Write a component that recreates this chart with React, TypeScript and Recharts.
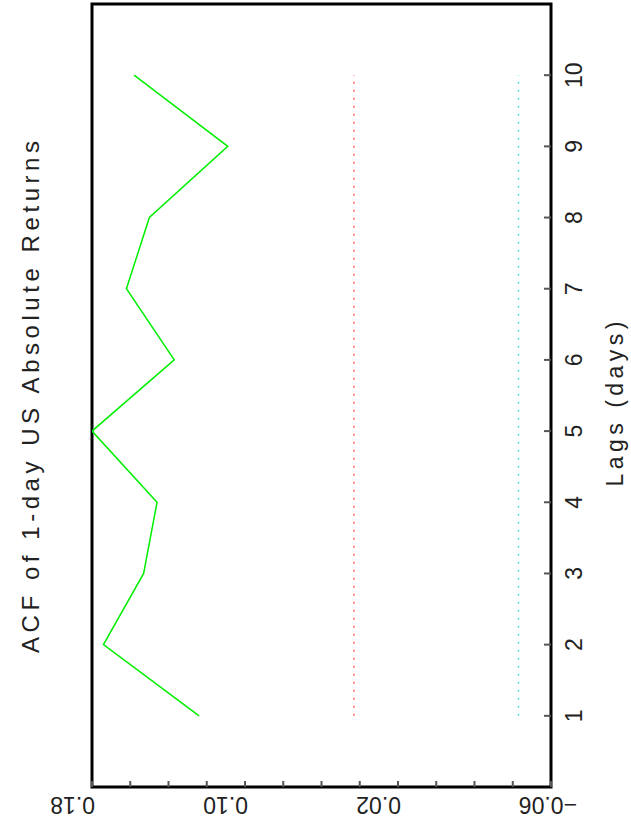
import { ComposedChart, Line, XAxis, YAxis, ReferenceArea } from "recharts";

const lags = [1, 2, 3, 4, 5, 6, 7, 8, 9, 10];
const acf = [0.124, 0.174, 0.153, 0.146, 0.18, 0.137, 0.162, 0.15, 0.109, 0.158];
const confUpper = 0.043;
const confLower = -0.043;
const valueTicks = [0.18, 0.16, 0.14, 0.12, 0.1, 0.08, 0.06, 0.04, 0.02, 0, -0.02, -0.04, -0.06];
const valueLabels = [0.18, 0.1, 0.02, -0.06];

const data = lags.map((lag, i) => ({ lag, acf: acf[i], upper: confUpper, lower: confLower }));

const W = 631;
const H = 834;
const FONT = "'Liberation Sans', Arial, sans-serif";
const tickColor = "#555";
const textColor = "#222";

function BottomTick({ x, y, payload }: any) {
  const v = payload.value;
  const show = valueLabels.some((l) => Math.abs(l - v) < 1e-9);
  const tx = v < 0 ? x + 26 : x + 3;
  return (
    <g>
      <line x1={x} y1={y} x2={x} y2={y - 6} stroke={tickColor} strokeWidth={2} />
      {show && (
        <text
          x={tx}
          y={y + 18}
          transform={`rotate(180 ${tx} ${y + 18})`}
          textAnchor="start"
          dominantBaseline="central"
          fontFamily={FONT}
          fontSize={23}
          fill={textColor}
        >
          {v.toFixed(2).replace("-", "\u2212")}
        </text>
      )}
    </g>
  );
}

function TopTick({ x, y }: any) {
  return <line x1={x} y1={y} x2={x} y2={y + 6} stroke={tickColor} strokeWidth={2} />;
}

function RightTick({ x, y, payload }: any) {
  const lx = x + 23;
  return (
    <g>
      <line x1={x} y1={y} x2={x - 7} y2={y} stroke={tickColor} strokeWidth={2} />
      <text
        x={lx}
        y={y}
        transform={`rotate(-90 ${lx} ${y})`}
        textAnchor="middle"
        dominantBaseline="central"
        fontFamily={FONT}
        fontSize={23}
        fill={textColor}
      >
        {payload.value}
      </text>
    </g>
  );
}

function LeftTick({ x, y }: any) {
  return <line x1={x} y1={y} x2={x + 7} y2={y} stroke={tickColor} strokeWidth={2} />;
}

export default function App() {
  return (
    <div style={{ position: "absolute", left: 0, top: 0, width: W, height: H, background: "#fff" }}>
      <ComposedChart
        width={W}
        height={H}
        data={data}
        layout="vertical"
        margin={{ top: 4, right: 0, bottom: 0, left: 92 }}
      >
        <XAxis
          type="number"
          domain={[-0.06, 0.18]}
          reversed
          ticks={valueTicks}
          interval={0}
          height={47}
          axisLine={false}
          tickLine={false}
          tickSize={0}
          tickMargin={0}
          tick={<BottomTick />}
          allowDataOverflow
        />
        <XAxis
          xAxisId="top"
          orientation="top"
          type="number"
          domain={[-0.06, 0.18]}
          reversed
          ticks={valueTicks}
          interval={0}
          height={0}
          axisLine={false}
          tickLine={false}
          tickSize={0}
          tickMargin={0}
          tick={<TopTick />}
          allowDataOverflow
        />
        <YAxis
          type="number"
          dataKey="lag"
          domain={[0, 11]}
          reversed
          ticks={lags}
          interval={0}
          orientation="right"
          width={80}
          axisLine={false}
          tickLine={false}
          tickSize={0}
          tickMargin={0}
          tick={<RightTick />}
          allowDataOverflow
        />
        <YAxis
          yAxisId="left"
          type="number"
          dataKey="lag"
          domain={[0, 11]}
          reversed
          ticks={lags}
          interval={0}
          orientation="left"
          width={0}
          axisLine={false}
          tickLine={false}
          tickSize={0}
          tickMargin={0}
          tick={<LeftTick />}
          allowDataOverflow
        />
        <Line
          dataKey="upper"
          stroke="#ff3b3b"
          strokeWidth={1.3}
          strokeDasharray="2 6"
          dot={false}
          isAnimationActive={false}
        />
        <Line
          dataKey="lower"
          stroke="#3fe0e0"
          strokeWidth={1.3}
          strokeDasharray="2 6"
          dot={false}
          isAnimationActive={false}
        />
        <Line
          dataKey="acf"
          stroke="#00ee00"
          strokeWidth={1.5}
          dot={false}
          isAnimationActive={false}
        />
        <ReferenceArea
          x1={-0.06}
          x2={0.18}
          y1={0}
          y2={11}
          fill="none"
          stroke="#000"
          strokeWidth={3}
          ifOverflow="visible"
        />
      </ComposedChart>
      <svg
        width={W}
        height={H}
        style={{ position: "absolute", left: 0, top: 0, pointerEvents: "none" }}
      >
        <text
          x={30}
          y={397}
          transform="rotate(-90 30 397)"
          textAnchor="middle"
          dominantBaseline="central"
          fontFamily={FONT}
          fontSize={24}
          fill={textColor}
          textLength={512}
          lengthAdjust="spacing"
        >
          ACF of 1-day US Absolute Returns
        </text>
        <text
          x={615}
          y={404}
          transform="rotate(-90 615 404)"
          textAnchor="middle"
          dominantBaseline="central"
          fontFamily={FONT}
          fontSize={23}
          fill={textColor}
          textLength={165}
          lengthAdjust="spacing"
        >
          Lags (days)
        </text>
      </svg>
    </div>
  );
}
